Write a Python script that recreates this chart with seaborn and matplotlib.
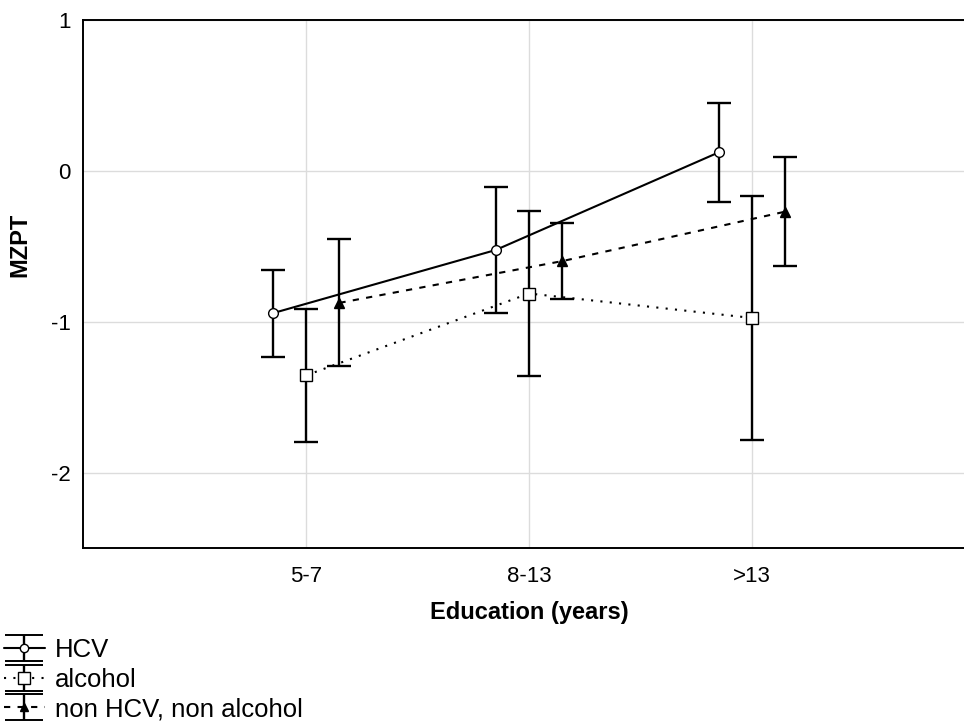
import numpy as np
import pandas as pd
import matplotlib
matplotlib.use("Agg")
import matplotlib.pyplot as plt
from matplotlib.lines import Line2D
from matplotlib.legend_handler import HandlerTuple
import seaborn as sns

# ---- data ----
categories = ["5-7", "8-13", ">13"]
groups = ["HCV", "alcohol", "non HCV, non alcohol"]
hcv_mean = [-0.944, -0.525, 0.122]
hcv_err = [0.29, 0.415, 0.33]
alc_mean = [-1.356, -0.813, -0.975]
alc_err = [0.44, 0.545, 0.81]
non_mean = [-0.875, -0.598, -0.27]
non_err = [0.42, 0.25, 0.36]
y_ticks = [-2, -1, 0, 1]

means = {"HCV": hcv_mean, "alcohol": alc_mean, "non HCV, non alcohol": non_mean}
errs = {"HCV": hcv_err, "alcohol": alc_err, "non HCV, non alcohol": non_err}
offsets = {"HCV": -0.15, "alcohol": 0.0, "non HCV, non alcohol": 0.15}

rows = []
for g in groups:
    for i, c in enumerate(categories):
        rows.append({"group": g, "cat": c, "pos": i + offsets[g],
                     "mean": means[g][i], "err": errs[g][i]})
df = pd.DataFrame(rows)

styles = {
    "HCV": dict(marker="o", ls="-", mfc="white", ms=7),
    "alcohol": dict(marker="s", ls=(0, (1, 3.5)), mfc="white", ms=9),
    "non HCV, non alcohol": dict(marker="^", ls=(0, (3, 3.5)), mfc="black", ms=7),
}

sns.set_style("whitegrid")
plt.rcParams["font.family"] = ["Liberation Sans", "DejaVu Sans"]
plt.rcParams["text.color"] = "black"
plt.rcParams["axes.labelcolor"] = "black"
plt.rcParams["xtick.color"] = "black"
plt.rcParams["ytick.color"] = "black"

fig = plt.figure(figsize=(9.64, 7.26), dpi=100)
ax = fig.add_axes([83 / 964, 1 - 548 / 726, (975 - 83) / 964, 528 / 726])

handles = []
for g in groups:
    sub = df[df["group"] == g]
    st = styles[g]
    sns.lineplot(data=sub, x="pos", y="mean", ax=ax, color="black",
                 linestyle=st["ls"], linewidth=1.5, marker=st["marker"],
                 markersize=st["ms"], markerfacecolor=st["mfc"],
                 markeredgecolor="black", markeredgewidth=1.0,
                 errorbar=None, legend=False, sort=True, zorder=3)
    eb = ax.errorbar(sub["pos"], sub["mean"], yerr=sub["err"], fmt="none",
                     ecolor="black", elinewidth=1.7, capsize=8.5,
                     capthick=1.7, zorder=2)
    proxy = Line2D([], [], color="black", linestyle=st["ls"], linewidth=1.5,
                   marker=st["marker"], markersize=st["ms"] - 1,
                   markerfacecolor=st["mfc"], markeredgecolor="black")
    handles.append((eb, proxy))

ax.set_xlim(-1, 3)
ax.set_ylim(-2.5, 1)
ax.set_xticks(range(len(categories)))
ax.set_xticklabels(categories)
ax.set_yticks(y_ticks)
ax.set_yticklabels([str(t) for t in y_ticks])
ax.grid(True, color="#dcdcdc", linewidth=1.0)
for s in ax.spines.values():
    s.set_color("black")
    s.set_linewidth(1.4)
ax.tick_params(axis="both", which="major", labelsize=16, direction="in",
               length=4, color="#888888", labelcolor="black")
ax.tick_params(axis="x", pad=13)
ax.tick_params(axis="y", pad=9)
ax.set_xlabel("Education (years)", fontsize=17, fontweight="bold", labelpad=10,
              color="black")
ax.set_ylabel("MZPT", fontsize=17, fontweight="bold", color="black")
ax.yaxis.set_label_coords(-0.058, 0.575)

leg = fig.legend(handles, groups, loc="upper left",
                 bbox_to_anchor=(0.004, 1 - 638 / 726), frameon=False,
                 fontsize=18.5, handlelength=1.6, handletextpad=0.4,
                 labelspacing=0.22, borderpad=0.0, borderaxespad=0.0,
                 handler_map={tuple: HandlerTuple(ndivide=1, pad=0)})
for t in leg.get_texts():
    t.set_color("black")
# wider caps on the legend error-bar symbols, as in the reference
for art in leg.findobj(Line2D):
    if art.get_marker() == "_":
        art.set_markersize(27)
        art.set_markeredgewidth(1.4)

fig.savefig("out.png", dpi=100)
